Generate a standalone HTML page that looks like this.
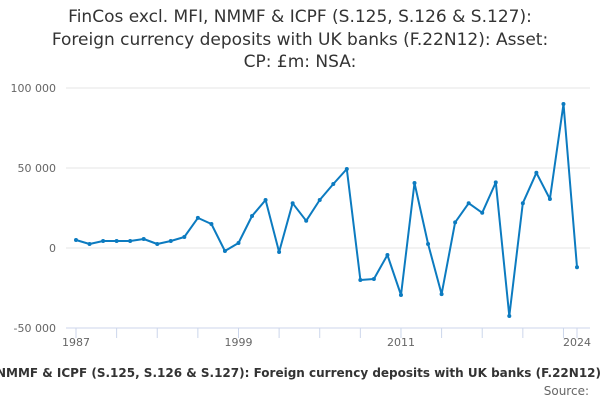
<!DOCTYPE html>
<html><head><meta charset="utf-8"><style>
body{margin:0;background:#fff;width:600px;height:400px;overflow:hidden;font-family:"DejaVu Sans","Liberation Sans",sans-serif}
</style></head><body>
<svg width="600" height="400">
<text x="300" y="22" text-anchor="middle" font-size="17" fill="#333">FinCos excl. MFI, NMMF &amp; ICPF (S.125, S.126 &amp; S.127):</text>
<text x="300" y="45" text-anchor="middle" font-size="17" fill="#333">Foreign currency deposits with UK banks (F.22N12): Asset:</text>
<text x="300" y="67" text-anchor="middle" font-size="17" fill="#333">CP: £m: NSA:</text>
<g id="grid"></g><g id="xaxis"></g><g id="series"></g>
<text x="601" y="377" text-anchor="end" font-size="12" font-weight="bold" fill="#333">FinCos excl. MFI, NMMF &amp; ICPF (S.125, S.126 &amp; S.127): Foreign currency deposits with UK banks (F.22N12)</text>
<text x="589" y="395" text-anchor="end" font-size="12" fill="#666">Source:</text>
</svg>
<script>
const years=[];for(let y=1987;y<=2024;y++)years.push(y);
const values=[5000,2500,4400,4400,4400,5600,2500,4400,6900,18800,15000,-1900,3100,20000,30000,-2500,28000,17000,30000,40000,49400,-20000,-19400,-4400,-29400,40600,2500,-28800,16000,28000,22000,41000,-42500,28000,47000,30600,90000,-12000];
const yTicks=[-50000,0,50000,100000];
const xLabels=[1987,1999,2011,2024];
const NS="http://www.w3.org/2000/svg";
const x0=76,x1=577,yPix=v=>248-v*0.0016;
const xPix=y=>x0+(y-1987)*(x1-x0)/(2024-1987);
function mk(t,a,p){const e=document.createElementNS(NS,t);for(const k in a)e.setAttribute(k,a[k]);p.appendChild(e);return e;}
const g=document.getElementById('grid'),xa=document.getElementById('xaxis'),s=document.getElementById('series');
yTicks.forEach(v=>{
 const l=mk('line',{x1:66,x2:590,y1:yPix(v),y2:yPix(v),stroke:v===-50000?'#ccd6eb':'#e6e6e6','stroke-width':1},g);
 
 
 const t=mk('text',{x:56,y:yPix(v)+4,'text-anchor':'end','font-size':11,fill:'#666'},g);
 t.textContent=v.toLocaleString('en').replace(/,/g,' ');
 
 
});
for(let y=1987;y<=2024;y+=3){const tk=mk('line',{x1:xPix(y),x2:xPix(y),y1:328,y2:338,stroke:'#ccd6eb'},xa);
 
 }
{const tk=mk('line',{x1:xPix(2024),x2:xPix(2024),y1:328,y2:338,stroke:'#ccd6eb'},xa);
 
 }
xLabels.forEach(y=>{const t=mk('text',{x:xPix(y),y:346,'text-anchor':'middle','font-size':11,fill:'#666'},xa);t.textContent=y;
 
 });
const d=values.map((v,i)=>(i?'L':'M')+xPix(years[i]).toFixed(1)+','+yPix(v).toFixed(1)).join('');
const p=mk('path',{d:d,fill:'none',stroke:'#0c7bc0','stroke-width':2,'stroke-linejoin':'round'},s);


values.forEach((v,i)=>{const c=mk('circle',{cx:xPix(years[i]),cy:yPix(v),r:2,fill:'#0c7bc0'},s);
 
 });
</script>
</body></html>
